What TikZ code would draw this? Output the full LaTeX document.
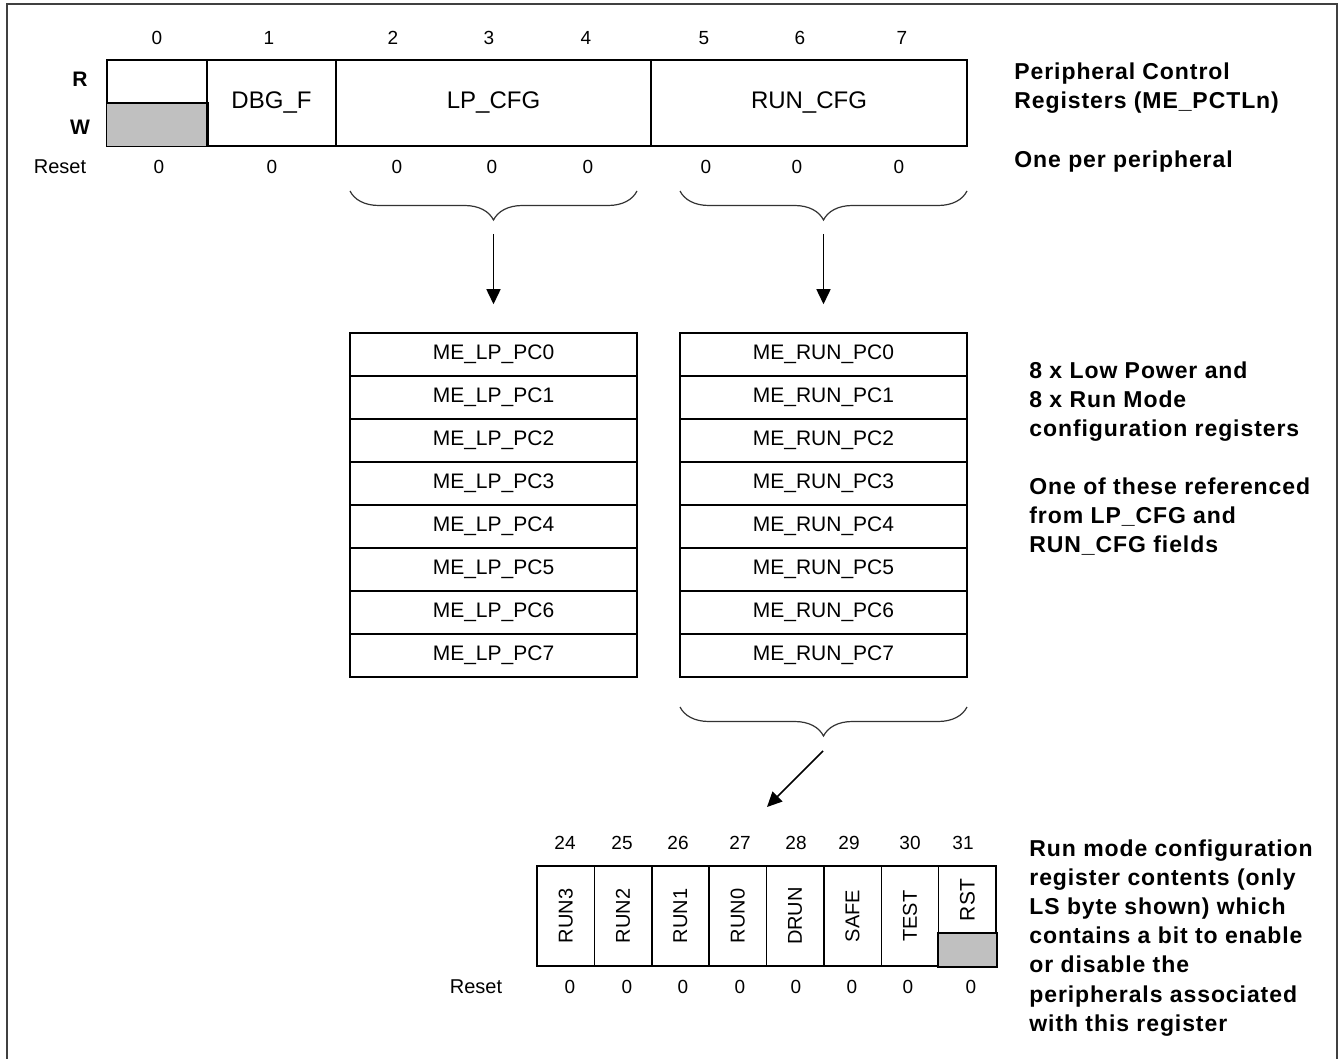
\documentclass[tikz,border=0pt]{standalone}
\usepackage{fontspec}
\setmainfont{Liberation Sans}
\newfontfamily\notefont[LetterSpace=4]{Liberation Sans}
\usetikzlibrary{arrows.meta,positioning,calc,decorations.pathreplacing}
\definecolor{regfill}{RGB}{192,192,192}
\definecolor{framecol}{RGB}{64,64,64}

\begin{document}
\begin{tikzpicture}[x=0.5pt,y=-0.5pt,
  cell/.style={draw,line width=0.75pt,inner sep=0pt,font=\fontsize{10}{12}\selectfont},
  field/.style={cell,minimum height=43pt,font=\fontsize{12}{14}\selectfont},
  regrow/.style={cell,minimum width=143.5pt,minimum height=21.5pt,font=\fontsize{10.5}{12}\selectfont},
  bitcell/.style={cell,minimum width=28.69pt,minimum height=50pt},
  num/.style={inner sep=0pt,font=\fontsize{9.5}{11}\selectfont},
  rw/.style={inner sep=0pt,font=\fontsize{10.5}{12}\selectfont\bfseries},
  note/.style={inner sep=0pt,anchor=north west,align=left,
    font=\fontsize{11.5}{14.6}\selectfont\notefont\bfseries},
  brc/.style={decorate,decoration={brace,amplitude=14.5pt},line width=0.6pt,black!80},
  arr/.style={-{Triangle[length=7.5pt,width=7pt]},line width=0.75pt}]
\useasboundingbox (0,0) rectangle (1340,1059);
\draw[framecol,line width=1pt] (7,1059) -- (7,4) -- (1337,4) -- (1337,1059);

% ME_PCTLn register
\foreach \b/\x in {0/157,1/269,2/393,3/489,4/586,5/704,6/800,7/902}
  \node[num] (n\b) at (\x,38) {\b};
\node[rw] (r) at (80,79) {R};
\node[rw] (w) at (80,127) {W};
\node[field,minimum width=50pt] (c0) at (157,103) {};
\filldraw[fill=regfill,line width=0.75pt] (c0.west) rectangle (c0.south east);
\node[field,minimum width=64.5pt] (dbg) at (271.5,103) {DBG\_F};
\node[field,minimum width=157.5pt] (lpcfg) at (493.5,103) {LP\_CFG};
\node[field,minimum width=158pt] (runcfg) at (809,103) {RUN\_CFG};
\node[num,font=\fontsize{10}{12}\selectfont] (rst1) at (60,167) {Reset};
\foreach \x [count=\i] in {159,272,397,492,588,706,797,899}
  \node[num] (z\i) at (\x,167) {0};

% braces and arrows down to the tables
\coordinate (lpbr1) at (350,191);
\coordinate (lpbr2) at (637,191);
\coordinate (runbr1) at (680,191);
\coordinate (runbr2) at (967,191);
\draw[brc] (lpbr2) -- (lpbr1);
\draw[brc] (runbr2) -- (runbr1);
\coordinate (lptip) at (493.5,234);
\coordinate (runtip) at (823.5,234);

% 8 x LP and 8 x RUN config registers
\foreach \i in {0,...,7} {
  \node[regrow] (lp\i) at (493.5,{354.5+43*\i}) {ME\_LP\_PC\i};
  \node[regrow] (rp\i) at (823.5,{354.5+43*\i}) {ME\_RUN\_PC\i};
}
\draw[arr] (lptip) -- ([yshift=14pt]lp0.north);
\draw[arr] (runtip) -- ([yshift=14pt]rp0.north);

% brace under the RUN table
\coordinate (pcbr1) at (680,707);
\coordinate (pcbr2) at (967,707);
\draw[brc] (pcbr2) -- (pcbr1);
\coordinate (pctip) at (823,751);
\coordinate (pcend) at (767,807);
\draw[arr] (pctip) -- (pcend);

% run mode config register, LS byte
\foreach \b/\x in {24/565,25/622,26/678,27/740,28/796,29/849,30/910,31/963}
  \node[num] (m\b) at (\x,843) {\b};
\foreach \n/\t [count=\i from 0] in {24/RUN3,25/RUN2,26/RUN1,27/RUN0,28/DRUN,29/SAFE,30/TEST,31/RST}
  \node[bitcell] (b\n) at ({537+57.375*(\i+0.5)},916) {};
\filldraw[fill=regfill,line width=0.75pt] (b31.south west) rectangle ([yshift=17pt]b31.south east);
\foreach \n/\t in {24/RUN3,25/RUN2,26/RUN1,27/RUN0,28/DRUN,29/SAFE,30/TEST}
  \node[num,rotate=90,font=\fontsize{10}{12}\selectfont] (t\n) at (b\n) {\t};
\node[num,rotate=90,font=\fontsize{10.5}{12}\selectfont] (t31) at ([yshift=8pt]b31.center) {RST};
\node[num,font=\fontsize{10}{12}\selectfont] (rst2) at (476,987) {Reset};
\foreach \x [count=\i] in {570,627,683,740,796,852,908,971}
  \node[num] (y\i) at (\x,987) {0};

% notes
\node[note] (pctl) at (1014,62) {Peripheral Control\\Registers (ME\_PCTLn)};
\node[note] (one) at (1014,150) {One per peripheral};
\node[note] (eight) at (1029,361) {8 x Low Power and\\8 x Run Mode\\configuration registers};
\node[note] (ref) at (1029,477) {One of these referenced\\from LP\_CFG and\\RUN\_CFG fields};
\node[note] (runmode) at (1029,839) {Run mode configuration\\register contents (only\\LS byte shown) which\\contains a bit to enable\\or disable the\\peripherals associated\\with this register};
\end{tikzpicture}
\end{document}
